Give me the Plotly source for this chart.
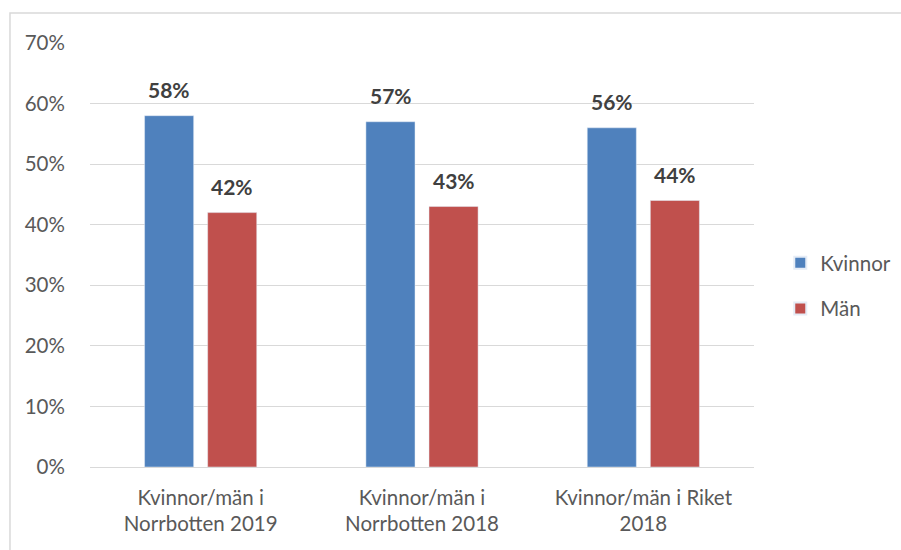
import plotly.graph_objects as go

categories = ["Kvinnor/män i<br>Norrbotten 2019", "Kvinnor/män i<br>Norrbotten 2018", "Kvinnor/män i Riket<br>2018"]
kvinnor = [0.58, 0.57, 0.56]
man = [0.42, 0.43, 0.44]
tick_vals = [0, 0.1, 0.2, 0.3, 0.4, 0.5, 0.6, 0.7]
tick_text = ["0%", "10%", "20%", "30%", "40%", "50%", "60%", "70%"]

FONT = "Lato, Open Sans, sans-serif"

fig = go.Figure()
fig.add_trace(go.Bar(x=categories, y=kvinnor, name="Kvinnor", marker_color="#4F81BD",
                     legendgroup="k", offsetgroup="k"))
fig.add_trace(go.Bar(x=categories, y=man, name="Män", marker_color="#C0504D",
                     legendgroup="m", offsetgroup="m"))

# value labels
for i, c in enumerate(categories):
    fig.add_annotation(x=c, y=kvinnor[i], text=f"<b>{round(kvinnor[i]*100)}%</b>",
                       showarrow=False, xshift=-31.5, yshift=26,
                       font=dict(family=FONT, size=21, color="#404040"))
    fig.add_annotation(x=c, y=man[i], text=f"<b>{round(man[i]*100)}%</b>",
                       showarrow=False, xshift=31.5, yshift=26,
                       font=dict(family=FONT, size=21, color="#404040"))

fig.update_layout(
    width=901, height=550,
    margin=dict(l=90, r=147, t=43, b=83, autoexpand=False),
    paper_bgcolor="white", plot_bgcolor="white",
    barmode="group", bargap=0.43, bargroupgap=0.222,
    font=dict(family=FONT, size=20.5, color="#595959"),
    legend=dict(xref="container", x=0.866, yref="container", y=0.48,
                xanchor="left", yanchor="middle",
                font=dict(size=20.5, color="#595959"), tracegroupgap=16,
                traceorder="grouped", itemsizing="constant", itemwidth=30),
    showlegend=True,
)
fig.update_yaxes(range=[0, 0.7], tickvals=tick_vals, ticktext=tick_text,
                 showgrid=True, gridcolor="#D9D9D9", gridwidth=1.3,
                 zeroline=True, zerolinecolor="#D9D9D9", zerolinewidth=1.3,
                 ticks="outside", ticklen=20, tickcolor="rgba(0,0,0,0)",
                 tickfont=dict(size=20.5, color="#595959"), fixedrange=True)
fig.update_xaxes(showgrid=False, showline=False, ticks="outside", ticklen=12,
                 tickcolor="rgba(0,0,0,0)", tickfont=dict(size=20.5, color="#595959"))

fig.add_shape(type="rect", xref="paper", yref="paper",
              x0=-0.1205, x1=1.25, y0=-0.25, y1=1.0708,
              line=dict(color="#D9D9D9", width=1.5), layer="below")

fig.write_html("out.html")
